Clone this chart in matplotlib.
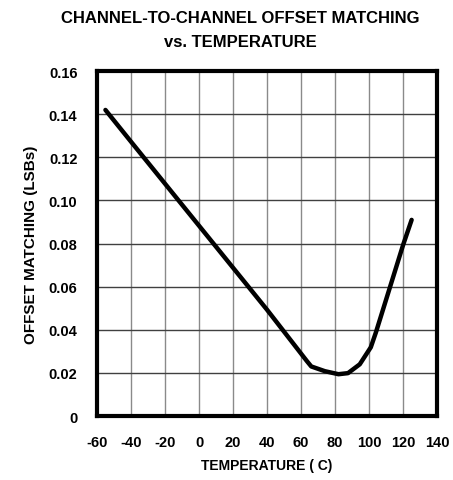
import matplotlib
matplotlib.use("Agg")
import matplotlib.pyplot as plt

plt.rcParams['font.family'] = ['Liberation Sans', 'DejaVu Sans']
plt.rcParams['axes.unicode_minus'] = False

# curve
temp_c = [-55, -40, -20, 0, 20, 40, 63.5, 66, 74, 82, 87.6, 94.5, 101, 104, 120, 125]
offset = [0.142, 0.1273, 0.1078, 0.0883, 0.0688, 0.0493, 0.0254, 0.023, 0.0208, 0.0194,
          0.0199, 0.024, 0.0319, 0.0388, 0.0794, 0.091]
x_ticks = [-60, -40, -20, 0, 20, 40, 60, 80, 100, 120, 140]
y_ticks = [0, 0.02, 0.04, 0.06, 0.08, 0.10, 0.12, 0.14, 0.16]
y_labels = ["0", "0.02", "0.04", "0.06", "0.08", "0.10", "0.12", "0.14", "0.16"]

fig = plt.figure(figsize=(4.53, 4.81), dpi=100)
ax = fig.add_axes([0.214, 0.133, 0.751, 0.717])

for xv in x_ticks[1:-1]:
    ax.axvline(xv, color="#8a8a8a", lw=1.0, zorder=1)
for yv in y_ticks[1:-1]:
    ax.axhline(yv, color="#404040", lw=1.0, zorder=1)

ax.plot(temp_c, offset, color="black", lw=3.2, solid_capstyle="round", zorder=3)

ax.set_xlim(-60, 140)
ax.set_ylim(0, 0.16)
ax.set_xticks(x_ticks)
ax.set_yticks(y_ticks)
ax.set_yticklabels(y_labels)
ax.tick_params(length=0, labelsize=10.5)
ax.tick_params(axis="x", pad=14)
ax.tick_params(axis="y", pad=14)
for lab in ax.get_xticklabels() + ax.get_yticklabels():
    lab.set_fontweight("bold")
for sp in ax.spines.values():
    sp.set_linewidth(3)
    sp.set_color("black")

ax.set_xlabel("TEMPERATURE ( C)", fontsize=10, fontweight="bold", labelpad=6)
ax.set_ylabel("OFFSET MATCHING (LSBs)", fontsize=11, fontweight="bold", labelpad=8)

fig.text(0.53, 0.961, "CHANNEL-TO-CHANNEL OFFSET MATCHING", ha="center", va="center",
         fontsize=12, fontweight="bold")
fig.text(0.53, 0.911, "vs. TEMPERATURE", ha="center", va="center",
         fontsize=12, fontweight="bold")

fig.savefig("out.png", dpi=100)
